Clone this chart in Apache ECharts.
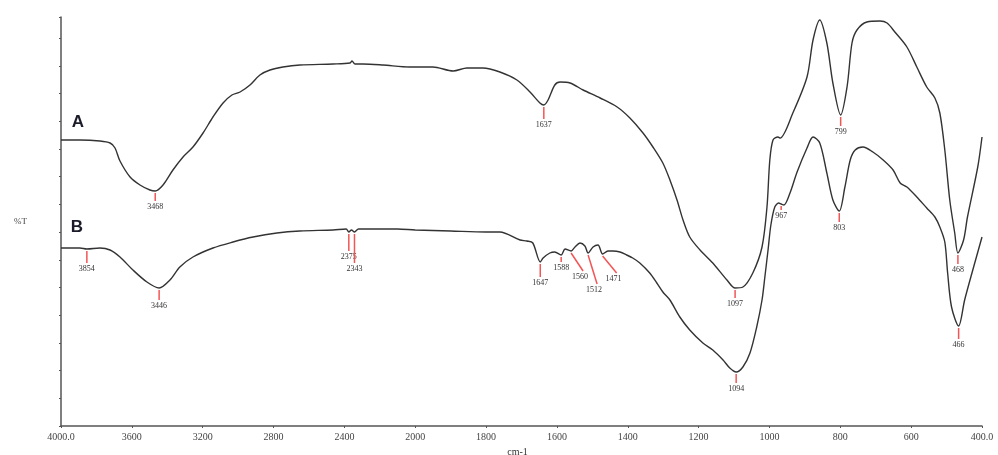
<!DOCTYPE html>
<html><head><meta charset="utf-8">
<script src="https://cdn.jsdelivr.net/npm/echarts@6/dist/echarts.min.js"></script>
<style>html,body{margin:0;padding:0;background:#fff}#c{width:998px;height:455px}</style>
</head><body><div id="c"></div>
<script>
// x tick labels (axis is piecewise: 400 cm-1 steps above 2000, 200 cm-1 steps below)
const xTickLabels = ['4000.0','3600','3200','2800','2400','2000','1800','1600','1400','1200','1000','800','600','400.0'];

// Spectrum A (wavenumber cm-1, transmittance in arbitrary units)
const waveA = [4000,3893,3780,3723,3695,3667,3610,3554,3498,3468,3424,3368,3311,3255,3198,3142,3085,3035,2989,2933,2877,2820,2747,2651,2464,2368,2357,2340,2295,2182,2030,1950,1893,1854,1809,1761,1713,1676,1648,1637,1625,1606,1591,1563,1526,1478,1430,1394,1357,1329,1301,1281,1261,1244,1225,1196,1160,1120,1097,1075,1047,1021,1007,999,990,976,970,934,894,877,858,838,821,799,781,767,753,725,688,668,646,612,584,556,533,519,505,491,477,468,452,441,412,400];
const transA = [286,286,285,283,278,265,249,241,236,235,241,256,269,279,293,309,323,331,334,341,351,356,359,361,362,363,365,362,362,361,359,359,355,358,358,354,346,334,323,321,326,341,344,343,336,328,319,308,293,279,263,246,226,206,189,176,163,146,138,139,153,179,219,266,286,289,288,313,349,386,406,383,343,311,339,383,396,404,405,403,394,379,359,339,328,313,276,226,193,173,186,209,259,289];

// Spectrum B
const waveB = [4000,3893,3854,3780,3723,3667,3594,3515,3446,3385,3329,3255,3142,3029,2916,2781,2651,2464,2390,2375,2360,2343,2320,2200,2100,2000,1900,1800,1761,1704,1685,1668,1647,1639,1620,1606,1588,1577,1560,1549,1535,1521,1512,1498,1484,1471,1456,1442,1422,1403,1386,1366,1338,1318,1301,1281,1253,1225,1188,1160,1131,1112,1094,1075,1055,1036,1021,1013,1004,996,985,974,967,959,942,922,894,877,858,838,821,803,787,772,758,736,708,679,651,631,612,584,556,533,519,505,497,486,466,449,426,400];
const transB = [178,178,177,178,176,169,156,144,138,146,159,169,178,184,189,193,195,196,197,194,196,194,197,197,197,196,195,194,194,186,185,183,164,168,173,174,171,177,175,179,183,180,173,179,181,172,175,175,174,171,168,163,153,143,134,126,109,96,83,76,66,58,54,59,73,99,126,149,176,201,219,223,222,221,233,254,278,289,283,253,226,215,239,266,276,279,274,266,256,243,239,229,218,209,199,184,153,119,100,126,156,189];

// Peak annotations
const peaksA = [3468,1637,1097,799,468];
const peaksB = [3854,3446,2375,2343,1647,1588,1560,1512,1471,1094,967,803,466];
// leader line length / lean (px) — styling only
const leadA = [[8,0],[12,0],[8,0],[9,0],[9,0]];
const leadB = [[12,0],[10,0],[17,0],[29,0],[13,0],[5,0],[18,12],[29,9],[17,14],[9,0],[4,0],[9,0],[11,0]];

function toPos(w){ return w >= 2000 ? (4000 - w)/400 : 5 + (2000 - w)/200; }
function interp(ws, ts, w){
  for (let i=0;i<ws.length-1;i++){
    if (w <= ws[i] && w >= ws[i+1]) {
      const f = (ws[i]-w)/(ws[i]-ws[i+1] || 1);
      return ts[i] + f*(ts[i+1]-ts[i]);
    }
  }
  return ts[ts.length-1];
}
const pts = (ws, ts) => ws.map((w,i)=>[toPos(w), ts[i]]);

const annos = [];
peaksA.forEach((w,i)=>annos.push({w, t: interp(waveA,transA,w), len: leadA[i][0], dx: leadA[i][1]}));
peaksB.forEach((w,i)=>annos.push({w, t: interp(waveB,transB,w), len: leadB[i][0], dx: leadB[i][1]}));

const chart = echarts.init(document.getElementById('c'), null, {renderer:'canvas'});
const axisColor = '#555';
const lineStyle = {color:'#333', width:1.4};
chart.setOption({
  animation:false,
  backgroundColor:'#fff',
  grid:{left:61, right:16, top:17, bottom:29, containLabel:false, outerBoundsMode:'none'},
  xAxis:{
    type:'value', min:0, max:13, interval:1,
    name:'cm-1', nameLocation:'middle', nameGap:18,
    nameTextStyle:{fontFamily:'Liberation Serif', fontSize:10, color:'#333', padding:[0,8,0,0]},
    axisLine:{lineStyle:{color:axisColor, width:1.5}},
    axisTick:{length:2, lineStyle:{color:axisColor}},
    axisLabel:{fontFamily:'Liberation Serif', fontSize:10, color:'#444', margin:6,
      formatter:(v)=>xTickLabels[Math.round(v)] || ''},
    splitLine:{show:false}
  },
  yAxis:{
    type:'value', min:0, max:409, interval:27.7,
    name:'%T', nameLocation:'middle', nameRotate:0, nameGap:34,
    nameTextStyle:{fontFamily:'Liberation Serif', fontSize:9, color:'#444', padding:[6,0,0,0]},
    axisLine:{show:true, lineStyle:{color:axisColor, width:1.5}},
    axisTick:{show:true, length:2, lineStyle:{color:axisColor}},
    axisLabel:{show:false},
    splitLine:{show:false}
  },
  series:[
    {type:'line', name:'A', data:pts(waveA,transA), showSymbol:false, smooth:0.3, lineStyle,
     markPoint:{symbol:'circle', symbolSize:0, data:[{coord:[toPos(3904),304], label:{show:true, formatter:'A', fontFamily:'Liberation Sans', fontWeight:'bold', fontSize:17, color:'#1b1b2a', position:'inside'}}]}},
    {type:'line', name:'B', data:pts(waveB,transB), showSymbol:false, smooth:0.3, lineStyle,
     markPoint:{symbol:'circle', symbolSize:0, data:[{coord:[toPos(3910),199], label:{show:true, formatter:'B', fontFamily:'Liberation Sans', fontWeight:'bold', fontSize:17, color:'#1b1b2a', position:'inside'}}]}},
    {type:'custom', clip:false, z:5,
     data: annos.map((a,i)=>[toPos(a.w), a.t, i]),
     renderItem:(params, api)=>{
       const a = annos[api.value(2)];
       const p = api.coord([api.value(0), api.value(1)]);
       const x0 = p[0], y0 = p[1] + 2;
       const x1 = x0 + a.dx, y1 = y0 + a.len;
       return {type:'group', children:[
         {type:'line', shape:{x1:x0, y1:y0, x2:x1, y2:y1}, style:{stroke:'#f25555', lineWidth:1.5}},
         {type:'text', x:x1 - (a.dx?3:0), y:y1 + 6, style:{text:String(a.w), fontFamily:'Liberation Serif', fontSize:8, fill:'#333', align:'center', verticalAlign:'middle'}}
       ]};
     }}
  ]
});
</script></body></html>
